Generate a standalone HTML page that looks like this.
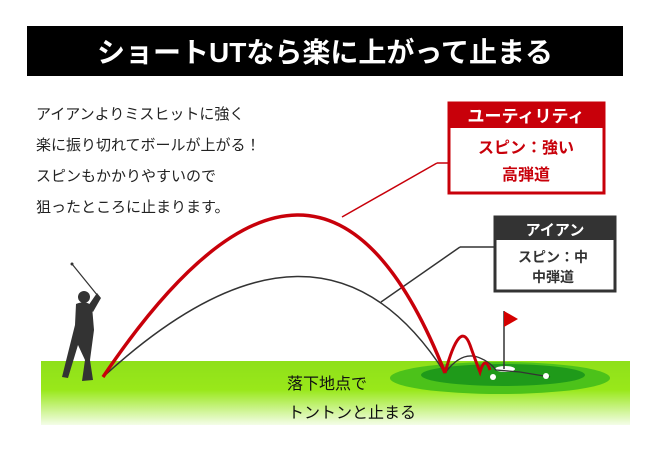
<!DOCTYPE html>
<html><head><meta charset="utf-8"><style>
body{margin:0;background:#fff;width:650px;height:449px;overflow:hidden;font-family:"Liberation Sans","Noto Sans CJK JP",sans-serif}
</style></head><body>
<svg width="650" height="449" viewBox="0 0 650 449" xmlns="http://www.w3.org/2000/svg" style="position:absolute;left:0;top:0">
<defs><linearGradient id="g" x1="0" y1="0" x2="0" y2="1">
<stop offset="0" stop-color="#8fe01a"/><stop offset="0.45" stop-color="#99e81a"/><stop offset="1" stop-color="#f4fde8"/></linearGradient></defs>
<rect x="27" y="26" width="596" height="50" fill="#000"/>
<text x="325" y="62" fill="#fff" font-size="28" font-weight="bold" text-anchor="middle" font-family="Liberation Sans,Noto Sans CJK JP,sans-serif">ショートUTなら楽に上がって止まる</text>
<g font-size="15" fill="#222" font-family="Liberation Sans,Noto Sans CJK JP,sans-serif">
<text x="36" y="119">アイアンよりミスヒットに強く</text>
<text x="36" y="150">楽に振り切れてボールが上がる！</text>
<text x="36" y="181">スピンもかかりやすいので</text>
<text x="36" y="212">狙ったところに止まります。</text>
</g>
<rect x="41" y="361" width="589" height="64" fill="url(#g)"/>
<ellipse cx="500" cy="378" rx="110" ry="16" fill="#4cc21a"/>
<ellipse cx="503" cy="375" rx="82" ry="11" fill="#1f9a1a"/>
<ellipse cx="505" cy="369" rx="10" ry="3" fill="#fff"/>
<line x1="504" y1="369" x2="504" y2="311" stroke="#333" stroke-width="1.5"/>
<polygon points="504,311 518,319 504,327" fill="#d40000"/>
<!-- golfer -->
<g fill="#333">
<circle cx="84" cy="297" r="6"/>
<path d="M76 304 Q86 300 92 306 L94 330 L90 360 L93 380 L82 381 L85 360 L78 345 L68 378 L62 377 L70 345 L75 325 Z"/>
<path d="M88 306 L97 293 L101 298 L93 312 Z"/>
</g>
<line x1="98" y1="296" x2="72" y2="264" stroke="#333" stroke-width="1.2"/>
<circle cx="72" cy="264" r="1.5" fill="#333"/>
<!-- iron trajectory -->
<path d="M103 377 Q320 178 445 373" fill="none" stroke="#333" stroke-width="1.5"/>
<path d="M445 373 Q462 350 480 358 Q490 362 496 370 L520 372 L550 377" fill="none" stroke="#333" stroke-width="1.3"/>
<line x1="381" y1="302" x2="460" y2="247" stroke="#333" stroke-width="1.5"/>
<line x1="460" y1="247" x2="494" y2="247" stroke="#333" stroke-width="1.5"/>
<circle cx="493" cy="377" r="3" fill="#fff"/><circle cx="546" cy="376" r="3" fill="#fff"/>
<!-- utility trajectory -->
<path d="M103 377 Q320 55 445 373" fill="none" stroke="#c8000a" stroke-width="3.5"/>
<path d="M445 373 Q460 318 470 345 Q476 362 480 372 Q485 355 490 370" fill="none" stroke="#c8000a" stroke-width="3"/>
<line x1="342" y1="217" x2="437" y2="163" stroke="#c8000a" stroke-width="1.5"/>
<line x1="437" y1="163" x2="448" y2="163" stroke="#c8000a" stroke-width="1.5"/>
<!-- boxes -->
<rect x="449" y="103" width="155" height="90" fill="#fff" stroke="#c8000a" stroke-width="3"/>
<rect x="449" y="103" width="155" height="25" fill="#c8000a"/>
<text x="526" y="122" fill="#fff" font-size="17" font-weight="bold" text-anchor="middle">ユーティリティ</text>
<text x="526" y="153" fill="#c8000a" font-size="16" font-weight="bold" text-anchor="middle">スピン：強い</text>
<text x="526" y="180" fill="#c8000a" font-size="16" font-weight="bold" text-anchor="middle">高弾道</text>
<rect x="495" y="217" width="120" height="74" fill="#fff" stroke="#333" stroke-width="3"/>
<rect x="495" y="217" width="120" height="23" fill="#333"/>
<text x="555" y="235" fill="#fff" font-size="15" font-weight="bold" text-anchor="middle">アイアン</text>
<text x="553" y="262" fill="#333" font-size="14" font-weight="bold" text-anchor="middle">スピン：中</text>
<text x="553" y="282" fill="#333" font-size="14" font-weight="bold" text-anchor="middle">中弾道</text>
<text x="287" y="389" font-size="16" fill="#111">落下地点で</text>
<text x="288" y="418" font-size="16" fill="#111">トントンと止まる</text>
</svg>
</body></html>
